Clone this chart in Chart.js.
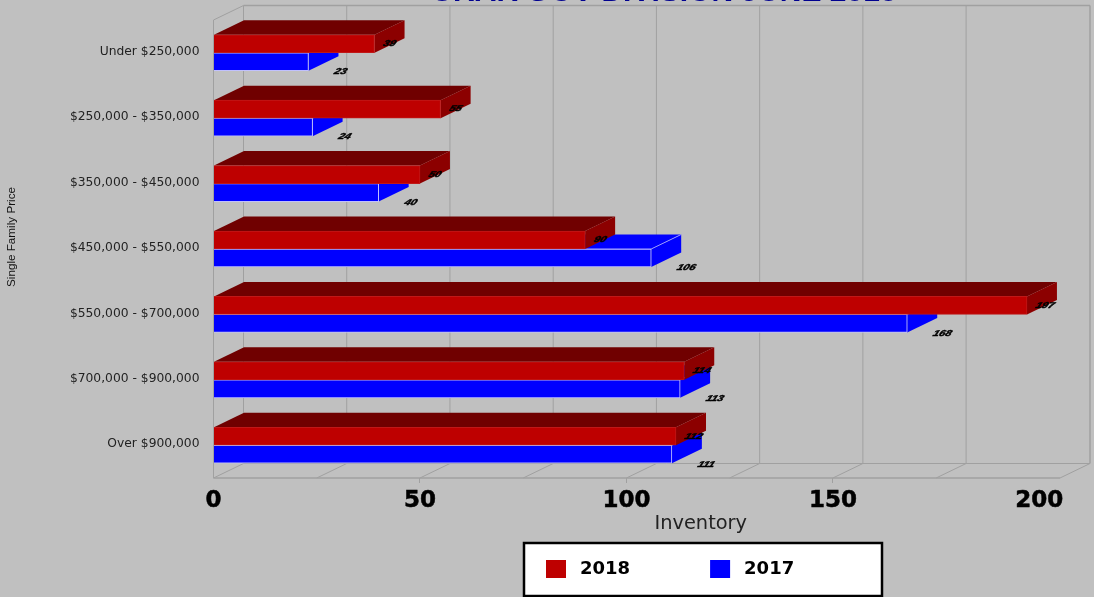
<!DOCTYPE html>
<html><head><meta charset="utf-8">
<style>html,body{margin:0;padding:0;background:#c0c0c0;overflow:hidden}canvas{display:block}</style>
<script src="https://cdn.jsdelivr.net/npm/chart.js@4"></script>
</head><body><canvas id="c" width="1094" height="597"></canvas>
<script>
const categories = ["Under $250,000","$250,000 - $350,000","$350,000 - $450,000","$450,000 - $550,000","$550,000 - $700,000","$700,000 - $900,000","Over $900,000"];
const values2018 = [39,55,50,90,197,114,112];
const values2017 = [23,24,40,106,168,113,111];
const tickValues = [0,25,50,75,100,125,150,175,200];
const labeledEvery = 50;
const chartTitle = "URAR GOV DIVISION JUNE 2018";
const xTitle = "Inventory";
const yTitle = "Single Family Price";

const DX = 30, DY = -14.5;
const WALL = "#a0a0a0";

function face(ctx, pts, fill){
  ctx.beginPath();
  pts.forEach((p,i)=> i?ctx.lineTo(p[0],p[1]):ctx.moveTo(p[0],p[1]));
  ctx.closePath();
  ctx.fillStyle = fill; ctx.fill();
}
function shiftDraw(obj, name, dx, dy, ctx){
  const orig = Object.getPrototypeOf(obj)[name];
  obj[name] = function(...a){ctx.save();ctx.translate(dx,dy);orig.apply(this,a);ctx.restore();};
}
const LEGEND_PAD = 80;
const threeD = {
  id:'threeD',
  afterLayout(chart){
    const t = chart.titleBlock; t.left = 664 - chart.width/2; t.right = t.left + chart.width; t.top = -22.5; t.bottom = t.top + t.height;
    const l = chart.legend;
    l.left = 546 - LEGEND_PAD; l.right = l.left + 500; l.width = 500; l.top = 560 - LEGEND_PAD; l.height = 2*LEGEND_PAD + 22; l.bottom = l.top + l.height;
    shiftDraw(chart.scales.x,'drawTitle',64,-60,chart.ctx);
    shiftDraw(chart.scales.y,'drawTitle',-1,-12,chart.ctx);
  },
  beforeDraw(chart){
    const c = chart.ctx;
    c.save();
    c.fillStyle = "#c0c0c0"; c.fillRect(0,0,chart.width,chart.height);
    c.fillStyle = "#fff"; c.fillRect(524,543,358,53);
    c.strokeStyle = "#000"; c.lineWidth = 2.5; c.strokeRect(524,543,358,53);
    const l = chart.legend;
    chart.data.datasets.forEach((d,i)=>{
      const h = l.legendHitBoxes[i];
      c.fillStyle = d.backgroundColor;
      c.fillRect(h.left, h.top + (h.height-18)/2, 20, 18);
    });
    c.restore();
  },
  beforeDatasetsDraw(chart){
    const c = chart.ctx, a = chart.chartArea, x = chart.scales.x;
    c.save();
    c.strokeStyle = WALL;
    const line = (x1,y1,x2,y2,w)=>{c.lineWidth=w||1;c.beginPath();c.moveTo(x1,y1);c.lineTo(x2,y2);c.stroke();};
    tickValues.slice(0,-1).forEach(v=>{
      const p = x.getPixelForValue(v);
      line(p+DX,a.top+DY,p+DX,a.bottom+DY,1);
      line(p,a.bottom,p+DX,a.bottom+DY,1);
    });
    line(a.left,a.top,a.left,a.bottom,1);
    line(a.left,a.top,a.left+DX,a.top+DY,1);
    line(a.left+DX,a.top+DY,a.right+DX,a.top+DY,1.5);
    line(a.right+DX,a.top+DY,a.right+DX,a.bottom+DY,1.5);
    line(a.left+DX,a.bottom+DY,a.right+DX,a.bottom+DY,1);
    line(a.right,a.bottom,a.right+DX,a.bottom+DY,1);
    line(a.left,a.bottom,a.right,a.bottom,1.5);
    const styles = [
      {top:"#700000",side:"#8c0000",edge:null},
      {top:"#0000ff",side:"#0000ff",edge:"#9a9aff"}
    ];
    [1,0].forEach(di=>{
      const s = styles[di];
      chart.getDatasetMeta(di).data.forEach(b=>{
        const r = b.x, t = b.y - b.height/2, bt = b.y + b.height/2, l = b.base;
        face(c,[[l,t],[l+DX,t+DY],[r+DX,t+DY],[r,t]],s.top);
        face(c,[[r,t],[r+DX,t+DY],[r+DX,bt+DY],[r,bt]],s.side);
        if(s.edge){c.strokeStyle=s.edge;c.lineWidth=1;c.beginPath();c.moveTo(l,t);c.lineTo(r,t);c.lineTo(r+DX,t+DY);c.stroke();}
      });
    });
    c.restore();
  },
  afterDatasetsDraw(chart){
    const c = chart.ctx;
    const offs = [{x:9,y:0},{x:26,y:10}];
    [1,0].forEach(di=>{
      const vals = chart.data.datasets[di].data;
      chart.getDatasetMeta(di).data.forEach((b,i)=>{
        c.save();
        c.translate(b.x+offs[di].x,b.y+offs[di].y);
        c.transform(1.1,0,-0.35,0.85,0,0);
        c.font = "italic bold 10px 'Liberation Sans'";
        c.fillStyle = "#000"; c.strokeStyle = "#000"; c.lineWidth = 0.5;
        c.textAlign = "left"; c.textBaseline = "middle";
        c.fillText(String(vals[i]),0,0);
        c.strokeText(String(vals[i]),0,0);
        c.restore();
      });
    });
  }
};
new Chart(document.getElementById('c'),{
  type:'bar',
  plugins:[threeD],
  data:{labels:categories,datasets:[
    {label:"2018",data:values2018,backgroundColor:"#be0000",borderColor:"#c01818",borderWidth:1,barThickness:18},
    {label:"2017",data:values2017,backgroundColor:"#0000ff",borderColor:"#c0c0ff",borderWidth:1,barThickness:18}
  ]},
  options:{
    indexAxis:'y',responsive:false,animation:false,
    layout:{padding:{left:0,right:34,top:-10,bottom:0}},
    plugins:{
      tooltip:{enabled:false},
      title:{display:true,text:chartTitle,color:"#00008f",padding:0,font:{family:"'Liberation Sans'",size:30,weight:'bold',lineHeight:1}},
      legend:{position:'bottom',align:'start',maxHeight:1,labels:{boxWidth:25,boxHeight:18,padding:LEGEND_PAD,color:"#000",
        font:{family:"'DejaVu Sans'",size:18,weight:'bold'},
        generateLabels(chart){
          return chart.data.datasets.map((d,i)=>({text:d.label,fillStyle:"rgba(0,0,0,0)",strokeStyle:"rgba(0,0,0,0)",lineWidth:0,datasetIndex:i,fontColor:"#000"}));
        }}}
    },
    scales:{
      x:{min:0,max:205,
        afterBuildTicks(s){s.ticks = tickValues.map(v=>({value:v}));},
        afterFit(s){s.height = 118;},
        grid:{drawOnChartArea:false,tickLength:5,tickColor:ctx=>(ctx.tick && ctx.tick.value%labeledEvery===0 && ctx.tick.value>0 && ctx.tick.value<200)?WALL:"rgba(0,0,0,0)"},
        border:{display:false},
        ticks:{autoSkip:false,maxRotation:0,padding:4,color:"#000",textStrokeColor:"#000",textStrokeWidth:0.5,font:{family:"'DejaVu Sans'",size:23,weight:'bold'},callback:v=>v%labeledEvery===0?String(v):""},
        title:{display:true,text:xTitle,color:"#222",padding:0,font:{family:"'DejaVu Sans'",size:19.4}}
      },
      y:{
        afterFit(s){s.width = 213.5;},
        grid:{display:false},border:{display:false},
        ticks:{padding:6,labelOffset:-1,color:"#222",autoSkip:false,font:{family:"'DejaVu Sans'",size:12.3}},
        title:{display:true,text:yTitle,color:"#111",padding:{top:6,bottom:0},font:{family:"'Liberation Sans'",size:11.7}}
      }
    }
  }
});
</script></body></html>
